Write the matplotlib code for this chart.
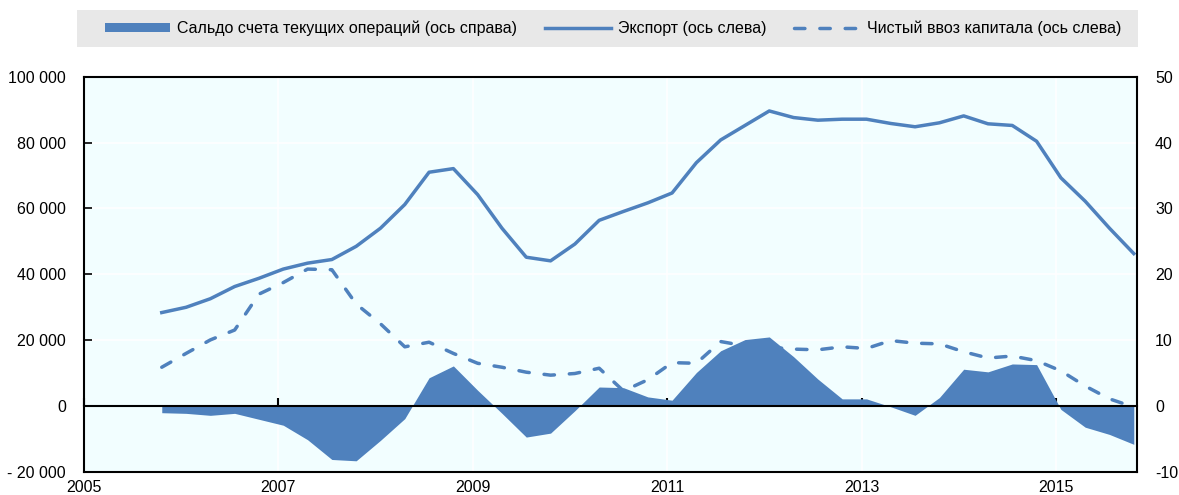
import numpy as np
import matplotlib
matplotlib.use("Agg")
import matplotlib.pyplot as plt
from matplotlib import font_manager as fm
from matplotlib.patches import Rectangle
from matplotlib.ticker import FuncFormatter, MultipleLocator

# ---- data (quarterly, Q4 2005 .. Q4 2015) ----
quarters = 2005.8 + 0.25 * np.arange(41)

export = [28400, 30000, 32600, 36300, 38800, 41600, 43400, 44500, 48500, 54000,
          61200, 71000, 72100, 64200, 54000, 45200, 44100, 49200, 56400, 59100,
          61700, 64700, 73900, 80800, 85200, 89600, 87600, 86800, 87100, 87100,
          85800, 84800, 86000, 88100, 85700, 85200, 80400, 69300, 62200, 54000,
          46300]

capital_inflow = [11800, 16000, 20100, 23100, 34000, 37500, 41600, 41400, 31000, 25000,
                  18000, 19400, 16000, 13000, 11800, 10300, 9400, 9900, 11500, 4600,
                  8000, 13200, 13000, 19600, 18300, 17900, 17300, 17100, 18000, 17500,
                  19900, 19100, 18900, 16500, 14600, 15200, 13800, 10700, 6100, 2200,
                  -300]

current_account = [-1.0, -1.1, -1.4, -1.1, -2.0, -2.9, -5.1, -8.1, -8.3, -5.2,
                   -1.9, 4.3, 6.1, 2.4, -1.1, -4.7, -4.1, -0.7, 2.9, 2.8,
                   1.4, 0.9, 5.1, 8.4, 10.1, 10.5, 7.5, 4.1, 1.1, 1.1,
                   -0.1, -1.4, 1.3, 5.6, 5.2, 6.4, 6.3, -0.5, -3.2, -4.3,
                   -5.8]

labels = ["Сальдо счета текущих операций (ось справа)",
          "Экспорт (ось слева)",
          "Чистый ввоз капитала (ось слева)"]

# ---- style ----
BLUE = "#4F81BD"
BG = "#F2FEFF"
_names = {f.name for f in fm.fontManager.ttflist}
if 'Liberation Sans Narrow' in _names:
    plt.rcParams['font.family'] = ['Liberation Sans Narrow', 'DejaVu Sans']
    FS = 13.5
else:
    plt.rcParams['font.family'] = ['Liberation Sans', 'DejaVu Sans']
    FS = 11.5

fig = plt.figure(figsize=(11.79, 4.95), dpi=100)
fig.patch.set_facecolor("white")

pos = [84/1179, 1 - 472/495, (1137-84)/1179, (472-76.7)/495]
ax2 = fig.add_axes(pos)              # right axis, background + area
ax = fig.add_axes(pos, sharex=ax2)   # left axis, lines on top
ax.set_zorder(2)
ax2.set_zorder(1)
ax.patch.set_visible(False)
ax2.set_facecolor(BG)

# right axis (area)
ax2.fill_between(quarters, current_account, 0, color=BLUE, linewidth=0, zorder=1,
                 label=labels[0])
ax2.set_ylim(-10, 50)
ax2.yaxis.set_major_locator(MultipleLocator(10))
ax2.yaxis.tick_right()
ax2.tick_params(axis='y', which='both', length=0, pad=13, labelsize=FS, right=False)
ax2.yaxis.set_major_formatter(FuncFormatter(lambda v, p: f"{v:.0f}"))
ax2.grid(True, which='major', axis='both', color='white', linewidth=1.2, zorder=0)
ax2.set_axisbelow(True)
for s in ['top', 'left', 'right']:
    ax2.spines[s].set_visible(False)
ax2.spines['bottom'].set_position(('data', 0))
ax2.spines['bottom'].set_linewidth(1.5)
ax2.spines['bottom'].set_color('black')
ax2.spines['bottom'].set_zorder(3)

# left axis (lines)
ax.plot(quarters, export, color=BLUE, linewidth=2.5, solid_joinstyle='round',
        label=labels[1])
ax.plot(quarters, capital_inflow, color=BLUE, linewidth=2.5,
        linestyle=(0, (3.0, 4.3)), dash_capstyle='round', label=labels[2])
ax.set_ylim(-20000, 100000)
ax.yaxis.set_major_locator(MultipleLocator(20000))

def fmt_left(v, p):
    s = f"{abs(int(round(v))):,}".replace(",", " ")
    return ("- " + s) if v < 0 else s

ax.yaxis.set_major_formatter(FuncFormatter(fmt_left))
ax.tick_params(axis='y', direction='in', length=6, width=1.2, pad=13, labelsize=FS)
ax.set_xlim(2005, 2015.833)
ax.xaxis.set_major_locator(MultipleLocator(2, offset=1))
ax.xaxis.set_major_formatter(FuncFormatter(lambda v, p: f"{v:.0f}"))
ax.tick_params(axis='x', length=0, pad=6, labelsize=FS)
for s in ax.spines.values():
    s.set_linewidth(1.5)
    s.set_color('black')

# tick marks on the zero line (shared x locator)
ax2.tick_params(axis='x', which='both', direction='in', length=6, width=1.5,
                labelbottom=False, bottom=True, top=False)

# legend with gray band
fig.patches.append(Rectangle((77/1179, 1 - 46.7/495), (1138-77)/1179, 36.7/495,
                             transform=fig.transFigure, facecolor="#E8E8E8",
                             edgecolor='none', zorder=0))
h1, l1 = ax2.get_legend_handles_labels()
h2, l2 = ax.get_legend_handles_labels()
leg = fig.legend(h1 + h2, l1 + l2, loc='center', bbox_to_anchor=(613/1179, 1 - 28.3/495),
                 ncol=3, frameon=False, fontsize=FS, handlelength=4.1, handleheight=0.5,
                 handletextpad=0.45, columnspacing=1.75, borderaxespad=0, borderpad=0)

fig.savefig("out.png", dpi=100, facecolor="white")
